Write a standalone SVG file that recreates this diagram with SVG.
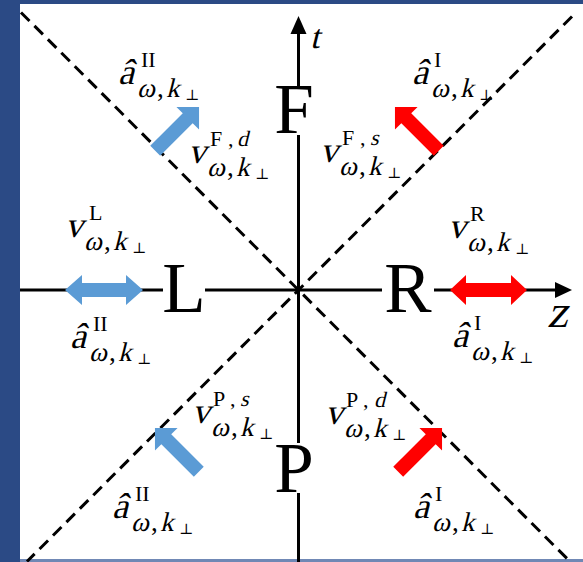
<svg xmlns="http://www.w3.org/2000/svg" width="583" height="562" viewBox="0 0 583 562">
<style>
text{font-family:"Liberation Serif","Times New Roman",serif;fill:#000}
.m{font-size:36px}
.sp{font-size:22px}
.sb{font-size:27px}
.pp{font-family:"DejaVu Serif",serif;font-size:15px}
.big{font-size:71px;text-anchor:middle}
.dash{stroke:#000;stroke-width:3;stroke-dasharray:12 7;fill:none}
.axis{stroke:#000;stroke-width:3;fill:none}
.blue{fill:#5b9bd5}
.red{fill:#ff0000}
</style>
<defs>
<polygon id="arr" points="0,-7 46,-7 46,-16 62,0 46,16 46,7 0,7"/>
</defs>
<g id="frame">
<rect x="0" y="0" width="583" height="562" fill="#2b4a85"/>
<rect x="20" y="4" width="563" height="555" fill="#ffffff"/>
<rect x="20" y="559" width="563" height="3" fill="#7088b5"/>
</g>
<g id="connectors">
<line class="dash" x1="21" y1="12.5" x2="570" y2="561.5"/>
<line class="dash" x1="572" y1="16.5" x2="27" y2="561.5"/>
<line class="axis" x1="298.5" y1="562" x2="298.5" y2="32"/>
<polygon points="298.5,16 290.5,34 306.5,34" fill="#000"/>
<line class="axis" x1="20" y1="290" x2="557" y2="290"/>
<polygon points="572,290 555,282 555,298" fill="#000"/>
</g>
<g id="axis-labels">
<text transform="translate(310,48) skewX(-14)" font-size="34">t</text>
<text transform="translate(547,327) skewX(-14)" font-size="46">z</text>
</g>
<g id="region-F">
<rect x="290" y="87" width="17" height="48" fill="#fff"/>
<text class="big" x="294" y="133">F</text>
</g>
<g id="region-L">
<rect x="163" y="284" width="42" height="12" fill="#fff"/>
<text class="big" x="184" y="312">L</text>
</g>
<g id="region-R">
<rect x="382" y="284" width="52" height="12" fill="#fff"/>
<text class="big" x="408" y="312">R</text>
</g>
<g id="region-P">
<rect x="290" y="443" width="17" height="50" fill="#fff"/>
<text class="big" x="294" y="492">P</text>
</g>
<g id="arrows">
<use href="#arr" class="blue" transform="translate(155.2,150.8) rotate(-45)"/>
<use href="#arr" class="red" transform="translate(438.8,150.8) rotate(-135)"/>
<use href="#arr" class="blue" transform="translate(198.8,471.8) rotate(-135)"/>
<use href="#arr" class="red" transform="translate(398.2,471.8) rotate(-45)"/>
<polygon class="blue" points="65,290 82,275 82,283 126,283 126,275 143,290 126,305 126,297 82,297 82,305"/>
<polygon class="red" points="450,290 466,275 466,283 511,283 511,275 527,290 511,305 511,297 466,297 466,305"/>
</g>
<g id="label-a-II-top" transform="translate(118,84)">
<text class="m" transform="skewX(-14)">â</text>
<text class="sp" x="23" y="-17">II</text>
<text class="sb" transform="translate(19,13) skewX(-14)">ω</text>
<text class="sb" x="39" y="13">,</text>
<text class="sb" transform="translate(48,13) skewX(-14)">k</text>
<text class="pp" x="67" y="16">⊥</text>
</g>
<g id="label-a-I-top" transform="translate(412,84)">
<text class="m" transform="skewX(-14)">â</text>
<text class="sp" x="22" y="-17">I</text>
<text class="sb" transform="translate(19,13) skewX(-14)">ω</text>
<text class="sb" x="39" y="13">,</text>
<text class="sb" transform="translate(48,13) skewX(-14)">k</text>
<text class="pp" x="67" y="16">⊥</text>
</g>
<g id="label-v-Fd" transform="translate(188,163)">
<text class="m" transform="skewX(-14)">v</text>
<text class="sp" y="-17"><tspan x="22">F</tspan><tspan x="40">,</tspan></text>
<text class="sp" transform="translate(49,-17) skewX(-14)">d</text>
<text class="sb" transform="translate(19,13) skewX(-14)">ω</text>
<text class="sb" x="39" y="13">,</text>
<text class="sb" transform="translate(48,13) skewX(-14)">k</text>
<text class="pp" x="67" y="16">⊥</text>
</g>
<g id="label-v-Fs" transform="translate(320,162)">
<text class="m" transform="skewX(-14)">v</text>
<text class="sp" y="-17"><tspan x="22">F</tspan><tspan x="40">,</tspan></text>
<text class="sp" transform="translate(50,-17) skewX(-14)">s</text>
<text class="sb" transform="translate(19,13) skewX(-14)">ω</text>
<text class="sb" x="39" y="13">,</text>
<text class="sb" transform="translate(48,13) skewX(-14)">k</text>
<text class="pp" x="67" y="16">⊥</text>
</g>
<g id="label-v-L" transform="translate(65,237)">
<text class="m" transform="skewX(-14)">v</text>
<text class="sp" x="24" y="-17">L</text>
<text class="sb" transform="translate(19,13) skewX(-14)">ω</text>
<text class="sb" x="39" y="13">,</text>
<text class="sb" transform="translate(48,13) skewX(-14)">k</text>
<text class="pp" x="67" y="16">⊥</text>
</g>
<g id="label-v-R" transform="translate(448,238)">
<text class="m" transform="skewX(-14)">v</text>
<text class="sp" x="22" y="-17">R</text>
<text class="sb" transform="translate(19,13) skewX(-14)">ω</text>
<text class="sb" x="39" y="13">,</text>
<text class="sb" transform="translate(48,13) skewX(-14)">k</text>
<text class="pp" x="67" y="16">⊥</text>
</g>
<g id="label-a-II-L" transform="translate(70,348)">
<text class="m" transform="skewX(-14)">â</text>
<text class="sp" x="23" y="-17">II</text>
<text class="sb" transform="translate(19,13) skewX(-14)">ω</text>
<text class="sb" x="39" y="13">,</text>
<text class="sb" transform="translate(48,13) skewX(-14)">k</text>
<text class="pp" x="67" y="16">⊥</text>
</g>
<g id="label-a-I-R" transform="translate(452,347)">
<text class="m" transform="skewX(-14)">â</text>
<text class="sp" x="22" y="-17">I</text>
<text class="sb" transform="translate(19,13) skewX(-14)">ω</text>
<text class="sb" x="39" y="13">,</text>
<text class="sb" transform="translate(48,13) skewX(-14)">k</text>
<text class="pp" x="67" y="16">⊥</text>
</g>
<g id="label-v-Ps" transform="translate(192,423)">
<text class="m" transform="skewX(-14)">v</text>
<text class="sp" y="-17"><tspan x="21">P</tspan><tspan x="38">,</tspan></text>
<text class="sp" transform="translate(48,-17) skewX(-14)">s</text>
<text class="sb" transform="translate(19,13) skewX(-14)">ω</text>
<text class="sb" x="39" y="13">,</text>
<text class="sb" transform="translate(48,13) skewX(-14)">k</text>
<text class="pp" x="67" y="16">⊥</text>
</g>
<g id="label-v-Pd" transform="translate(325,424)">
<text class="m" transform="skewX(-14)">v</text>
<text class="sp" y="-17"><tspan x="21">P</tspan><tspan x="38">,</tspan></text>
<text class="sp" transform="translate(49,-17) skewX(-14)">d</text>
<text class="sb" transform="translate(19,13) skewX(-14)">ω</text>
<text class="sb" x="39" y="13">,</text>
<text class="sb" transform="translate(48,13) skewX(-14)">k</text>
<text class="pp" x="67" y="16">⊥</text>
</g>
<g id="label-a-II-bottom" transform="translate(112,518)">
<text class="m" transform="skewX(-14)">â</text>
<text class="sp" x="23" y="-17">II</text>
<text class="sb" transform="translate(19,13) skewX(-14)">ω</text>
<text class="sb" x="39" y="13">,</text>
<text class="sb" transform="translate(48,13) skewX(-14)">k</text>
<text class="pp" x="67" y="16">⊥</text>
</g>
<g id="label-a-I-bottom" transform="translate(413,518)">
<text class="m" transform="skewX(-14)">â</text>
<text class="sp" x="22" y="-17">I</text>
<text class="sb" transform="translate(19,13) skewX(-14)">ω</text>
<text class="sb" x="39" y="13">,</text>
<text class="sb" transform="translate(48,13) skewX(-14)">k</text>
<text class="pp" x="67" y="16">⊥</text>
</g>
</svg>
